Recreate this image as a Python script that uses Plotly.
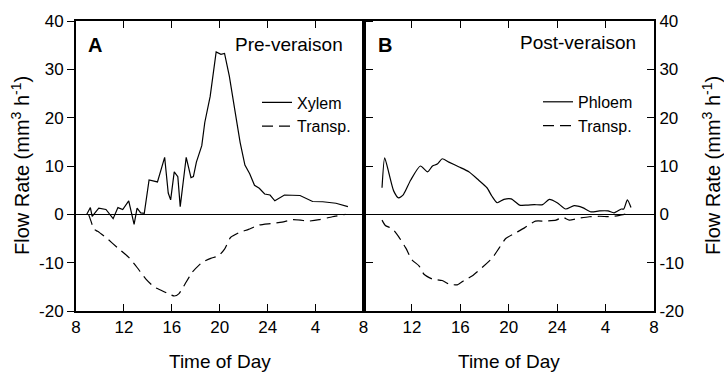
import plotly.graph_objects as go

# ---- data (time of day in hours, continuing past midnight as 24+) ----
xylem_t = [8.9, 9.2, 9.35, 9.9, 10.5, 11.1, 11.5, 11.9, 12.4, 12.7, 12.85, 13.1, 13.4, 13.7,
           14.1, 14.8, 15.4, 15.7, 15.9, 16.2, 16.5, 16.7, 17.2, 17.6, 17.8, 18.05, 18.5, 18.75,
           19.2, 19.7, 20.1, 20.4, 20.8, 21.25, 21.7, 22.1, 22.5, 22.9, 23.3, 23.75, 24.2, 24.6,
           25.4, 26.7, 27.75, 28.6, 29.7, 30.7]
xylem_v = [0, 1.4, -0.4, 1.3, 1.0, -0.9, 1.4, 1.0, 2.8, -0.4, -2.1, 1.3, 0.3, 0.2,
           7.1, 6.7, 11.8, 4.4, 3.0, 8.8, 7.8, 1.6, 11.8, 7.6, 7.8, 10.8, 14.2, 19.0,
           24.4, 33.6, 33.1, 33.3, 28.6, 21.7, 14.9, 10.2, 8.4, 6.0, 5.4, 4.2, 4.0, 2.8,
           4.0, 3.9, 2.65, 2.6, 2.3, 1.6]

transpA_t = [9.05, 9.25, 9.5, 9.8, 10.5, 11.6, 12.4, 13.1, 13.8, 14.5, 15.1, 15.6, 16.2, 16.6,
             17.2, 17.7, 18.55, 19.25, 19.9, 20.4, 20.9, 21.6, 22.4, 23.3, 24.25, 25.2, 26.1,
             26.75, 27.4, 28.3, 29.4, 30.5]
transpA_v = [0, -1.4, -3.1, -3.5, -4.8, -7.2, -8.9, -11.0, -13.3, -15.0, -15.7, -16.3, -16.9, -16.4,
             -14.0, -12.0, -9.9, -9.1, -8.6, -7.2, -4.8, -3.8, -3.1, -2.2, -1.9, -1.6, -1.1,
             -1.2, -1.4, -1.1, -0.5, 0]

phloem_t = [9.53, 9.75, 10.1, 10.5, 10.9, 11.3, 11.9, 12.7, 13.3, 13.7, 14.1, 14.5, 15.05, 15.9,
            16.7, 17.5, 18.2, 18.6, 19.05, 19.6, 20.2, 20.9, 21.5, 22.1, 22.8, 23.35, 24.0, 24.7,
            25.4, 26.1, 26.8, 27.5, 28.2, 28.7, 29.3, 29.5, 29.8, 30.1]
phloem_v = [5.5, 11.7, 8.5, 4.8, 3.4, 4.1, 7.1, 10.0, 8.8, 10.0, 10.4, 11.5, 10.8, 9.8,
            8.8, 7.1, 5.5, 3.8, 2.4, 3.1, 3.2, 1.9, 1.9, 2.0, 2.0, 3.1, 2.4, 1.1,
            1.8, 1.4, 0.5, 0.7, 0.7, 0.3, 1.1, 1.1, 3.0, 1.4]

transpB_t = [9.53, 9.8, 10.4, 10.9, 11.5, 12.0, 12.6, 13.0, 13.7, 14.5, 15.05, 15.75, 16.3, 17.0,
             17.8, 18.65, 19.2, 19.75, 20.6, 21.3, 22.2, 23.0, 23.9, 24.45, 25.0, 25.8, 26.65,
             27.5, 28.45, 29.15, 29.7]
transpB_v = [-1.2, -2.3, -3.0, -4.6, -7.0, -9.4, -10.7, -12.4, -13.4, -13.7, -14.4, -14.6, -13.7, -12.7,
             -11.0, -9.0, -7.0, -5.0, -3.8, -2.8, -1.4, -1.4, -1.2, -0.6, -1.2, -0.8, -0.5,
             -0.4, -0.5, -0.2, 0.1]

x_tickvals_A = [8, 12, 16, 20, 24, 28, 32]
x_ticktext_A = ["8", "12", "16", "20", "24", "4", "8"]
x_tickvals_B = [12, 16, 20, 24, 28, 32]
x_ticktext_B = ["12", "16", "20", "24", "4", "8"]
y_tickvals = [-20, -10, 0, 10, 20, 30, 40]
y_ticktext = ["-20", "-10", "0", "10", "20", "30", "40"]

FONT = "Liberation Sans, Arial, Helvetica, sans-serif"
DASH = "11px,6px"

fig = go.Figure()
fig.add_trace(go.Scatter(x=xylem_t, y=xylem_v, mode="lines", name="Xylem",
                         line=dict(color="black", width=1.2), xaxis="x", yaxis="y",
                         legend="legend"))
fig.add_trace(go.Scatter(x=transpA_t, y=transpA_v, mode="lines", name="Transp.",
                         line=dict(color="black", width=1.2, dash=DASH, shape="spline", smoothing=0.5),
                         xaxis="x", yaxis="y", legend="legend"))
fig.add_trace(go.Scatter(x=phloem_t, y=phloem_v, mode="lines", name="Phloem",
                         line=dict(color="black", width=1.2, shape="spline", smoothing=0.6),
                         xaxis="x2", yaxis="y2", legend="legend2"))
fig.add_trace(go.Scatter(x=transpB_t, y=transpB_v, mode="lines", name="Transp.",
                         line=dict(color="black", width=1.2, dash=DASH, shape="spline", smoothing=0.5),
                         xaxis="x2", yaxis="y2", legend="legend2"))

L, R, T, B = 76, 70, 16, 65
W, H = 724, 376
pw, ph = W - L - R, H - T - B
split = (363.5 - L) / pw

axis_common = dict(showline=True, linecolor="black", linewidth=2, showgrid=False,
                   ticklen=7, tickwidth=1.2, tickcolor="black",
                   tickfont=dict(family=FONT, size=17, color="black"))

fig.update_layout(
    width=W, height=H, autosize=False,
    margin=dict(l=L, r=R, t=T, b=B),
    paper_bgcolor="white", plot_bgcolor="white",
    font=dict(family=FONT, color="black"),
    xaxis=dict(domain=[0, split], range=[8, 32], tickvals=x_tickvals_A, ticktext=x_ticktext_A,
               ticks="inside", mirror="ticks", anchor="y", zeroline=False, **axis_common),
    xaxis2=dict(domain=[split, 1], range=[8, 32], tickvals=x_tickvals_B, ticktext=x_ticktext_B,
                ticks="inside", mirror="ticks", anchor="y2", zeroline=False, **axis_common),
    yaxis=dict(domain=[0, 1], range=[-20, 40], tickvals=y_tickvals, ticktext=y_ticktext,
               ticks="outside", mirror="ticks", anchor="x", zeroline=True, zerolinecolor="black",
               zerolinewidth=1, **axis_common),
    yaxis2=dict(domain=[0, 1], range=[-20, 40], tickvals=y_tickvals, ticktext=y_ticktext,
                ticks="inside", side="right", mirror="ticks", anchor="x2", zeroline=True,
                zerolinecolor="black", zerolinewidth=1, **axis_common),
    legend=dict(x=(257 - L) / pw, y=(311 - 111) / ph, xanchor="left",
                yanchor="middle", bgcolor="rgba(0,0,0,0)",
                font=dict(family=FONT, size=16, color="black"), tracegroupgap=0),
    legend2=dict(x=(538 - L) / pw, y=(311 - 110.5) / ph, xanchor="left",
                 yanchor="middle", bgcolor="rgba(0,0,0,0)",
                 font=dict(family=FONT, size=16, color="black"), tracegroupgap=0),
    showlegend=True,
)

def px(xp):
    return (xp - L) / pw
def py(yp):
    return (311 - yp) / ph

annos = [
    dict(text="<b>A</b>", x=px(86), y=py(40), xanchor="left", yanchor="middle", size=20),
    dict(text="Pre-veraison", x=px(345), y=py(40), xanchor="right", yanchor="middle", size=19),
    dict(text="<b>B</b>", x=px(376), y=py(40), xanchor="left", yanchor="middle", size=20),
    dict(text="Post-veraison", x=px(638), y=py(38), xanchor="right", yanchor="middle", size=19),
    dict(text="Time of Day", x=px(220), y=py(362), xanchor="center", yanchor="middle", size=19),
    dict(text="Time of Day", x=px(509), y=py(362), xanchor="center", yanchor="middle", size=19),
]
for a in annos:
    fig.add_annotation(text=a["text"], x=a["x"], y=a["y"], xref="paper", yref="paper",
                       xanchor=a["xanchor"], yanchor=a["yanchor"], showarrow=False,
                       font=dict(family=FONT, size=a["size"], color="black"))

ytitle = "Flow Rate (mm<sup>3</sup> h<sup>-1</sup>)"
for xc in (20, 711):
    fig.add_annotation(text=ytitle, x=px(xc), y=0.5, xref="paper", yref="paper",
                       xanchor="center", yanchor="middle", textangle=-90, showarrow=False,
                       font=dict(family=FONT, size=20, color="black"))

fig.write_html("out.html")
